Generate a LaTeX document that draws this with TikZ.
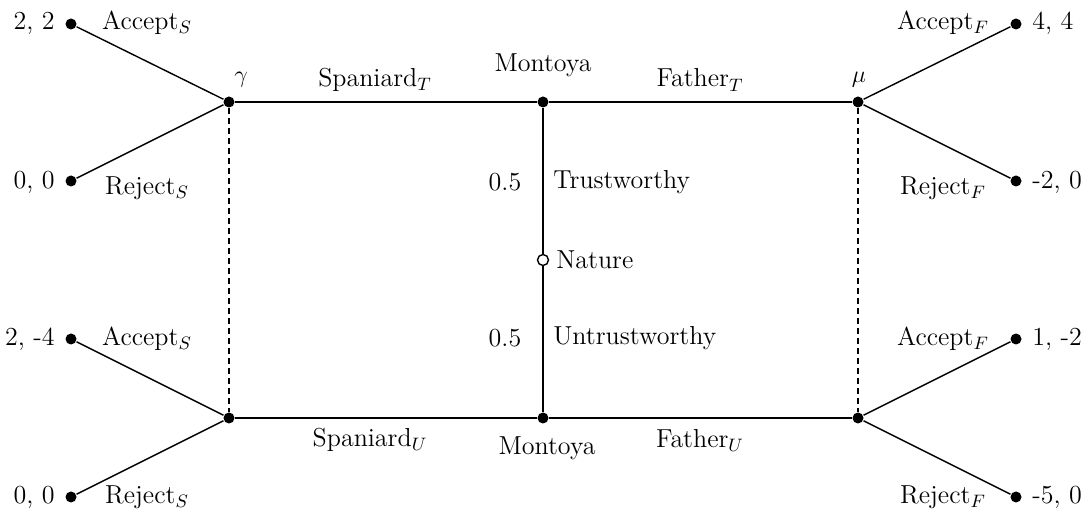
\documentclass[tikz,border=0pt]{standalone}
\usepackage{amsmath}

\begin{document}
\begin{tikzpicture}[x = 0.5pt, y = -0.5pt, line width = 0.7pt,
  font = \fontsize{13}{15}\selectfont,
  dot/.style = {circle, fill, inner sep = 0pt, minimum size = 5.5pt},
  odot/.style = {circle, draw, fill = white, inner sep = 0pt, minimum size = 5.5pt},
  info/.style = {dash pattern = on 3pt off 2pt}]
\useasboundingbox (0,0) rectangle (1092,512);

% decision nodes
\node[dot] (G) at (229,102) {};
\node[dot] (GU) at (229,418) {};
\node[dot] (MT) at (543,102) {};
\node[dot] (MU) at (543,418) {};
\node[dot] (F) at (858,102) {};
\node[dot] (FU) at (858,418) {};
\node[odot] (NAT) at (543,260) {};

% terminal nodes
\node[dot] (L1) at (71,24) {};
\node[dot] (L2) at (71,181) {};
\node[dot] (L3) at (71,339) {};
\node[dot] (L4) at (71,497) {};
\node[dot] (R1) at (1016,24) {};
\node[dot] (R2) at (1016,181) {};
\node[dot] (R3) at (1016,339) {};
\node[dot] (R4) at (1016,497) {};

\draw (G) -- (MT) -- (F);
\draw (GU) -- (MU) -- (FU);
\draw (MT) -- (NAT) -- (MU);
\draw[info] (G) -- (GU);
\draw[info] (F) -- (FU);
\draw (L1) -- (G) -- (L2);
\draw (L3) -- (GU) -- (L4);
\draw (R1) -- (F) -- (R2);
\draw (R3) -- (FU) -- (R4);

% labels
\node at (241,80) {$\gamma$};
\node at (859,80) {$\mu$};
\node at (375,80) {Spaniard$_T$};
\node at (543,65) {Montoya};
\node at (700,80) {Father$_T$};
\node at (370,440) {Spaniard$_U$};
\node at (547,448) {Montoya};
\node at (700,440) {Father$_U$};
\node at (505,182) {0.5};
\node[anchor = west] at (546,182) {Trustworthy};
\node[anchor = west] at (549,260) {Nature};
\node at (505,338) {0.5};
\node[anchor = west] at (546,338) {Untrustworthy};

\node at (147,23) {Accept$_S$};
\node at (147,188) {Reject$_S$};
\node at (147,339) {Accept$_S$};
\node at (147,497) {Reject$_S$};
\node at (943,23) {Accept$_F$};
\node at (943,188) {Reject$_F$};
\node at (943,339) {Accept$_F$};
\node at (943,497) {Reject$_F$};

\node[anchor = east] at (62,23) {2, 2};
\node[anchor = east] at (62,182) {0, 0};
\node[anchor = east] at (62,339) {2, -4};
\node[anchor = east] at (62,497) {0, 0};
\node[anchor = west] at (1025,23) {4, 4};
\node[anchor = west] at (1025,182) {-2, 0};
\node[anchor = west] at (1025,339) {1, -2};
\node[anchor = west] at (1025,497) {-5, 0};
\end{tikzpicture}
\end{document}
